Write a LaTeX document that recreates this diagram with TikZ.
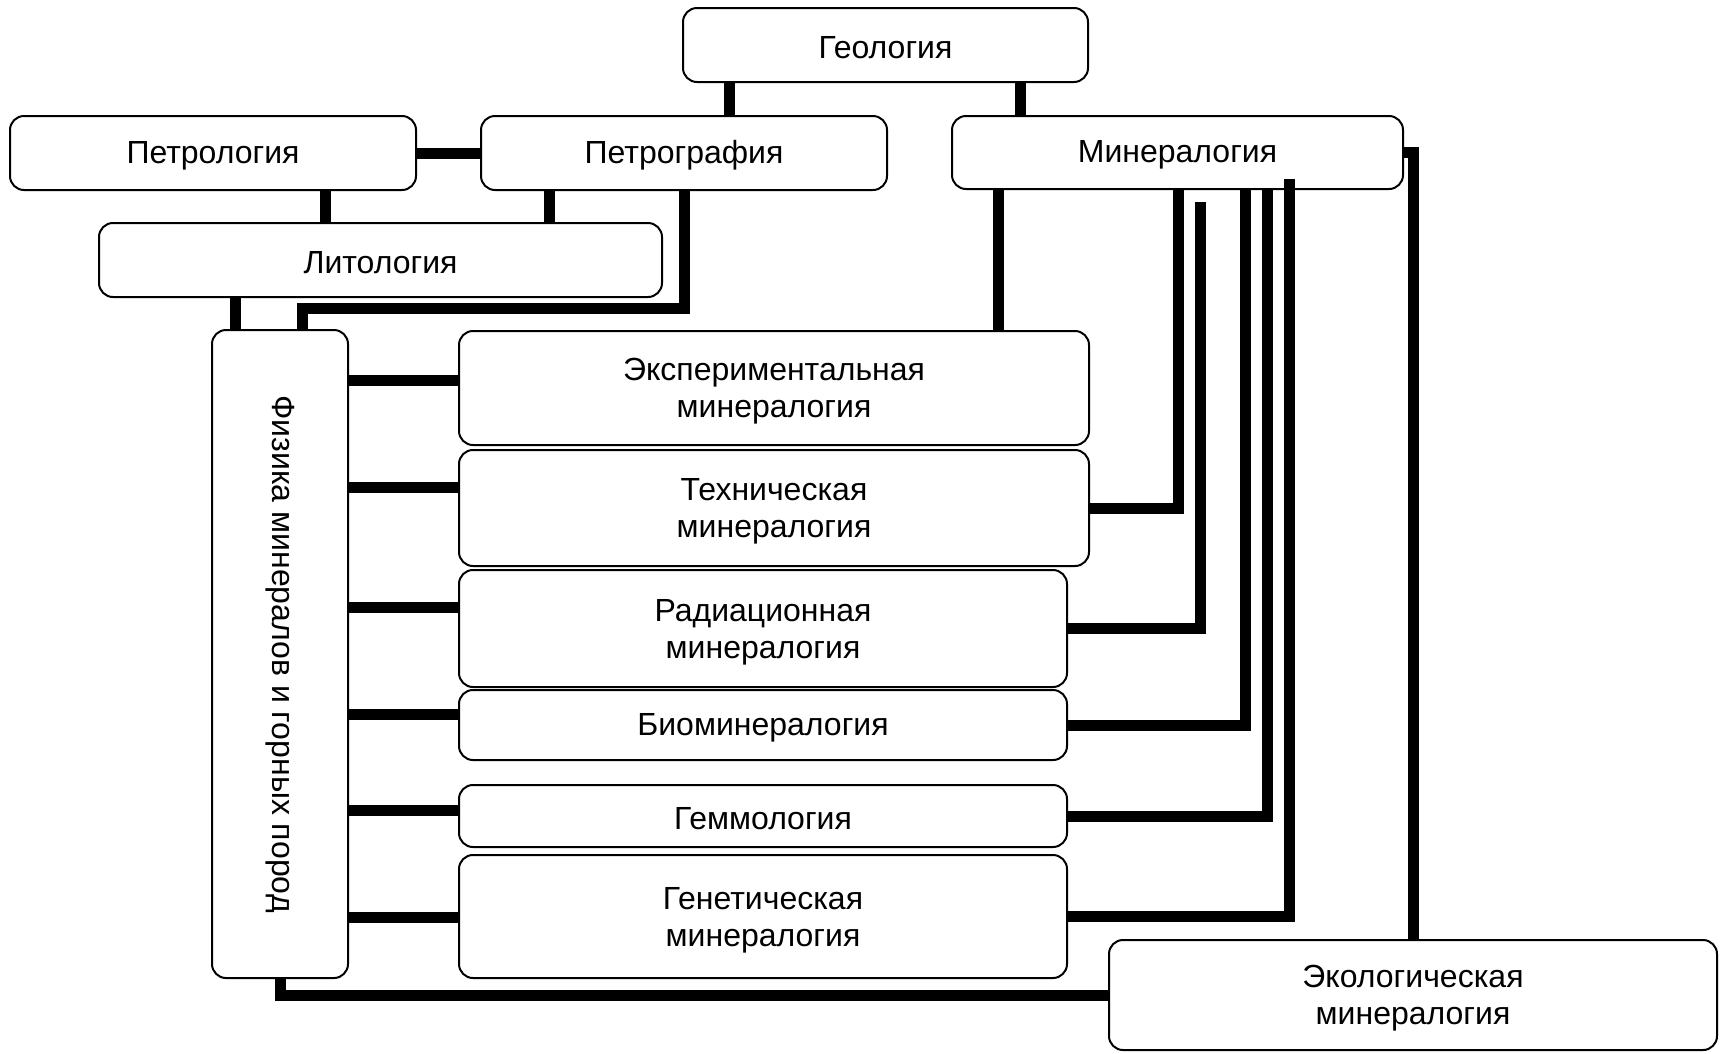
\documentclass[tikz,border=0pt]{standalone}
\usepackage{fontspec}
\setmainfont{Liberation Sans}
\usetikzlibrary{positioning,calc}
\tikzstyle{block} = [rectangle, draw, rounded corners=14pt, line width=2pt, align=center, inner sep=0pt, font=\fontsize{32}{37}\selectfont]
\tikzstyle{oneline} = [block, text height=27pt]
\tikzstyle{twoline} = [block, text depth=0pt]
\tikzstyle{link} = [line width=11pt]

\begin{document}
\begin{tikzpicture}[x=1pt, y=-1pt]
    \useasboundingbox (0,0) rectangle (1720,1053);
    % верхний ряд
    \node[oneline, minimum width=405pt, minimum height=74pt] (geo) at (885.5,45) {Геология};
    \node[oneline, minimum width=406pt, minimum height=74pt] (petrol) at (213,153) {Петрология};
    \node[oneline, minimum width=406pt, minimum height=74pt] (petrograf) at (684,153) {Петрография};
    \node[oneline, minimum width=451pt, minimum height=73pt] (miner) at (1177.5,152.5) {Минералогия};
    \node[oneline, minimum width=563pt, minimum height=74pt] (lito) at (380.5,260) {Литология};

    % физика минералов
    \node[block, minimum width=136pt, minimum height=648pt] (fiz) at (280,654) {\rotatebox{-90}{Физика минералов и горных пород}};

    % разделы минералогии
    \node[twoline, minimum width=630pt, minimum height=114pt] (exper) at (774,388) {Экспериментальная\\минералогия};
    \node[twoline, minimum width=630pt, minimum height=116pt, below=3pt of exper] (tech) {Техническая\\минералогия};
    \node[twoline, minimum width=608pt, minimum height=117pt, below=2pt of tech.south west, anchor=north west] (rad) {Радиационная\\минералогия};
    \node[oneline, minimum width=608pt, minimum height=70pt, below=1pt of rad] (bio) {Биоминералогия};
    \node[oneline, minimum width=608pt, minimum height=62pt, below=23pt of bio] (gem) {Геммология};
    \node[twoline, minimum width=608pt, minimum height=123pt, below=6pt of gem] (gen) {Генетическая\\минералогия};
    \node[twoline, minimum width=608pt, minimum height=110pt] (eco) at (1413,995) {Экологическая\\минералогия};

    % связи слева
    \draw[link] (geo.south -| 729,0) -- (petrograf.north -| 729,0);
    \draw[link] (geo.south -| 1020,0) -- (miner.north -| 1020,0);
    \draw[link] (petrol.east) -- (petrograf.west);
    \draw[link] (petrol.south -| 325,0) -- (lito.north -| 325,0);
    \draw[link] (petrograf.south -| 549,0) -- (lito.north -| 549,0);
    \draw[link] (lito.south -| 235,0) -- (fiz.north -| 235,0);
    \draw[link] (petrograf.south) -- ++(0,117) -| (fiz.north -| 302,0);

    \draw[link] (fiz.east |- 0,380) -- (exper.west |- 0,380);
    \draw[link] (fiz.east |- 0,487) -- (tech.west |- 0,487);
    \draw[link] (fiz.east |- 0,607) -- (rad.west |- 0,607);
    \draw[link] (fiz.east |- 0,714) -- (bio.west |- 0,714);
    \draw[link] (fiz.east |- 0,810) -- (gem.west |- 0,810);
    \draw[link] (fiz.east |- 0,917) -- (gen.west |- 0,917);
    \draw[link] (fiz.south) |- (eco.west);

    % связи справа
    \draw[link] (miner.south -| 998,0) -- (exper.north -| 998,0);
    \draw[link] (tech.east) -| (miner.south -| 1178,0);
    \draw[link] (rad.east) -| ($(miner.south -| 1200,0)+(0,12)$);
    \draw[link] (bio.east) -| (miner.south -| 1245,0);
    \draw[link] (gem.east) -| (miner.south -| 1267,0);
    \draw[link] (gen.east) -| ($(miner.south -| 1289,0)+(0,-11)$);
    \draw[link] (miner.east) -| (eco.north);
\end{tikzpicture}
\end{document}
